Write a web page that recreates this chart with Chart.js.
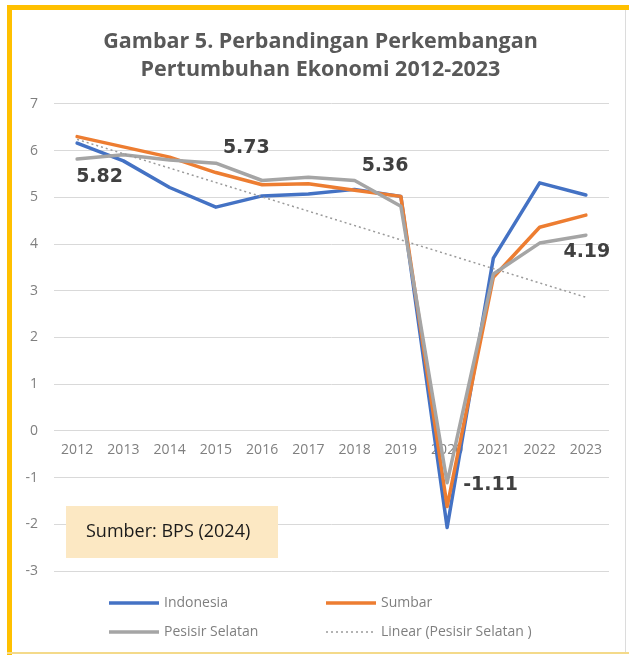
<!DOCTYPE html>
<html>
<head>
<meta charset="utf-8">
<script src="https://cdn.jsdelivr.net/npm/chart.js@4.4.1/dist/chart.umd.min.js"></script>
<style>
  html, body { margin: 0; padding: 0; background: #fff; }
  canvas { display: block; }
</style>
</head>
<body>
<canvas id="chart" width="629" height="655"></canvas>
<script>
// Chart data
const years = ['2012', '2013', '2014', '2015', '2016', '2017', '2018', '2019', '2020', '2021', '2022', '2023'];
const indonesia = [6.16, 5.78, 5.21, 4.79, 5.03, 5.07, 5.17, 5.02, -2.07, 3.70, 5.31, 5.05];
const sumbar = [6.30, 6.08, 5.86, 5.53, 5.27, 5.29, 5.15, 5.02, -1.62, 3.29, 4.36, 4.62];
const pesisirSelatan = [5.82, 5.91, 5.80, 5.73, 5.36, 5.43, 5.36, 4.81, -1.11, 3.36, 4.02, 4.19];
// Excel linear trend line of Pesisir Selatan: value at first and last year
const trendEnds = [6.24, 2.86];
// Which points of Pesisir Selatan carry a value label
const labelledYears = ['2012', '2015', '2018', '2020', '2023'];
const yTicks = { min: -3, max: 7, step: 1 };

const chartTitle = ['Gambar 5. Perbandingan Perkembangan', 'Pertumbuhan Ekonomi 2012-2023'];
const sourceNote = 'Sumber: BPS (2024)';

const trendline = years.map((_, i) => {
    if (i === 0) return trendEnds[0];
    if (i === years.length - 1) return trendEnds[1];
    return null;
});

const COLORS = {
    blue: '#4472C4',
    orange: '#ED7D31',
    gray: '#A5A5A5',
    text: '#7f7f7f',
    grid: '#d9d9d9',
    frame: '#FFC000',
};

// Label offsets relative to each labelled point (dx, dy, align)
const labelPlacement = {
    '2012': { dx: -1, dy: 18, align: 'left' },
    '2015': { dx: 7, dy: -15, align: 'left' },
    '2018': { dx: 7, dy: -14, align: 'left' },
    '2020': { dx: 16, dy: 2, align: 'left' },
    '2023': { dx: 1, dy: 17, align: 'center' },
};

/**
 * White background plus the yellow frame around the figure.
 */
const framePlugin = {
    id: 'frame',
    beforeDraw(chart) {
        const { ctx, width, height } = chart;
        ctx.save();
        ctx.fillStyle = '#fff';
        ctx.fillRect(0, 0, width, height);

        ctx.fillStyle = COLORS.frame;
        ctx.fillRect(7, 5, width - 7, 5);
        ctx.fillRect(7, 5, 5, height - 5);

        ctx.fillStyle = '#F4DA8A';
        ctx.fillRect(7, height - 3, width - 7, 2);

        ctx.fillStyle = '#dcdcdc';
        ctx.fillRect(625, 10, 1, height - 13);
        ctx.restore();
    }
};

/**
 * Source note box and value labels of Pesisir Selatan.
 */
const labelsPlugin = {
    id: 'valueLabels',
    afterDatasetsDraw(chart) {
        const { ctx } = chart;
        const xScale = chart.scales.x;
        const yScale = chart.scales.y;

        ctx.save();

        // Source box
        ctx.fillStyle = '#FCE8C3';
        ctx.fillRect(66, 506, 212, 52);
        ctx.fillStyle = '#1a1a1a';
        ctx.font = '18px "Open Sans"';
        ctx.textBaseline = 'middle';
        ctx.textAlign = 'left';
        ctx.fillText(sourceNote, 86, 532);

        // Data labels
        ctx.fillStyle = '#404040';
        ctx.font = 'bold 19px "DejaVu Sans"';
        labelledYears.forEach((yr) => {
            const i = years.indexOf(yr);
            const place = labelPlacement[yr];
            const value = pesisirSelatan[i];
            const px = xScale.getPixelForValue(i);
            const py = yScale.getPixelForValue(value);
            ctx.textAlign = place.align;
            ctx.fillText(value.toFixed(2), px + place.dx, py + place.dy);
        });

        ctx.restore();
    },
    afterDraw(chart) {
        // Two-column legend like the Excel original
        const { ctx } = chart;
        const ds = chart.data.datasets;
        const cells = [
            { d: ds[0], x: 109, y: 603 },
            { d: ds[1], x: 326, y: 603 },
            { d: ds[2], x: 109, y: 632 },
            { d: ds[3], x: 326, y: 632 },
        ];

        ctx.save();
        ctx.font = '14px "Open Sans"';
        ctx.textBaseline = 'middle';
        ctx.textAlign = 'left';
        cells.forEach(({ d, x, y }) => {
            ctx.beginPath();
            ctx.strokeStyle = d.borderColor;
            ctx.lineWidth = d.borderDash ? 1.5 : 3.5;
            ctx.setLineDash(d.borderDash || []);
            ctx.moveTo(x, y);
            ctx.lineTo(x + 50, y);
            ctx.stroke();
            ctx.setLineDash([]);
            ctx.fillStyle = COLORS.text;
            ctx.fillText(d.label, x + 55, y);
        });
        ctx.restore();
    }
};

function lineDataset(label, data, color, order) {
    return {
        label: label,
        data: data,
        borderColor: color,
        backgroundColor: color,
        borderWidth: 3.5,
        borderJoinStyle: 'round',
        borderCapStyle: 'round',
        pointRadius: 0,
        tension: 0,
        order: order,
    };
}

const ctx = document.getElementById('chart').getContext('2d');

new Chart(ctx, {
    type: 'line',
    data: {
        labels: years,
        datasets: [
            lineDataset('Indonesia', indonesia, COLORS.blue, 3),
            lineDataset('Sumbar', sumbar, COLORS.orange, 2),
            lineDataset('Pesisir Selatan', pesisirSelatan, COLORS.gray, 1),
            {
                label: 'Linear (Pesisir Selatan )',
                data: trendline,
                borderColor: '#9a9a9a',
                borderWidth: 1.5,
                borderDash: [2, 3],
                pointRadius: 0,
                spanGaps: true,
                order: 0,
            },
        ]
    },
    options: {
        responsive: false,
        animation: false,
        devicePixelRatio: 1,
        layout: {
            padding: { left: 12, right: 0, top: 0, bottom: 84 }
        },
        plugins: {
            legend: { display: false },
            tooltip: { enabled: false },
            title: {
                display: true,
                text: chartTitle,
                color: '#595959',
                font: { family: '"Open Sans"', size: 21.5, weight: 'bold', lineHeight: 1.3 },
                padding: { top: 28, bottom: 20 },
            },
        },
        scales: {
            x: {
                type: 'category',
                position: { y: 0 },
                offset: true,
                grid: { display: false, drawTicks: false },
                border: { display: false },
                ticks: {
                    color: COLORS.text,
                    font: { family: '"Open Sans"', size: 14 },
                    padding: 11,
                    maxRotation: 0,
                    autoSkip: false,
                },
            },
            y: {
                min: yTicks.min,
                max: yTicks.max,
                afterFit(scale) {
                    scale.width = 42;
                },
                grid: { color: COLORS.grid, lineWidth: 1, drawTicks: false },
                border: { display: false },
                ticks: {
                    stepSize: yTicks.step,
                    color: COLORS.text,
                    font: { family: '"Open Sans"', size: 14 },
                    padding: 16,
                },
            },
            // empty right-hand spacer so the plot ends where the original does
            yRight: {
                position: 'right',
                min: yTicks.min,
                max: yTicks.max,
                afterFit(scale) {
                    scale.width = 20;
                },
                grid: { display: false },
                border: { display: false },
                ticks: { display: false },
            },
        },
    },
    plugins: [framePlugin, labelsPlugin],
});
</script>
</body>
</html>
